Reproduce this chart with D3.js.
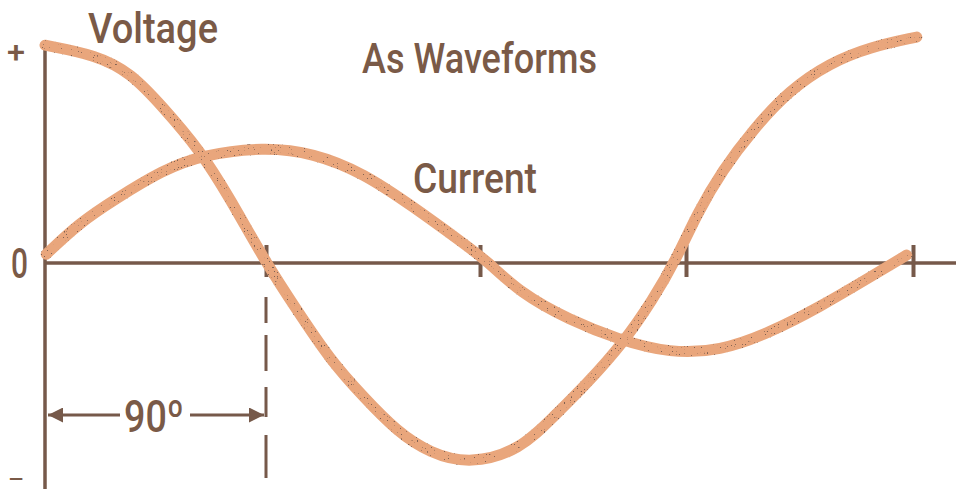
<!DOCTYPE html>
<html>
<head>
<meta charset="utf-8">
<script src="https://cdn.jsdelivr.net/npm/d3@7"></script>
<style>
  html, body { margin: 0; padding: 0; background: #fff; }
  svg { display: block; }
  .lbl { font-family: Roboto, 'Liberation Sans', sans-serif; font-weight: 500; fill: #7a5a47; }
</style>
</head>
<body>
<div id="chart"></div>
<script>
//
// DATA (phase angle in degrees, amplitude -1..1)
//

// voltage curve
const voltageDeg = [0, 21, 35, 48, 63, 75, 90, 103, 117, 131, 145, 159, 176,
                    197.5, 212, 227, 242.5, 255.5, 266, 274.5, 284.5, 296.5, 311, 327, 343, 361.5];
const voltageVal = [0.99, 0.945, 0.864, 0.709, 0.514, 0.30, 0, -0.214, -0.441, -0.609, -0.765, -0.865, -0.915,
                    -0.85, -0.70, -0.545, -0.364, -0.168, 0.023, 0.227, 0.423, 0.605, 0.786, 0.909, 0.982, 1.027];

// current curve
const currentDeg = [0.5, 14, 28, 48, 64, 89, 110, 131, 152, 173, 183,
                    197.5, 219, 241, 263, 283.5, 303, 323, 343, 357.5];
const currentVal = [0.04, 0.182, 0.286, 0.423, 0.491, 0.528, 0.50, 0.409, 0.255, 0.09, 0.01,
                    -0.136, -0.259, -0.35, -0.41, -0.40, -0.318, -0.20, -0.064, 0.036];

// axis ticks (the hand drawing spaces them a little unevenly)
const tickDeg = [90, 180, 270, 360];
const tickPx = [266, 480, 686, 913];

// texts
const title = 'As Waveforms';
const voltageLabel = 'Voltage';
const currentLabel = 'Current';
const phaseLabel = '90º';
const yLabels = ['+', '0', '–'];

//
// CHART
//

const width = 956;
const height = 492;
const ink = '#76594a';
const wave = '#e9a67c';

const svg = d3.select('#chart')
    .append('svg')
        .attr('width', width)
        .attr('height', height)
        .attr('viewBox', [0, 0, width, height]);

// speckled print texture for the waves
const f = svg.append('defs')
    .append('filter')
        .attr('id', 'speckle')
        .attr('color-interpolation-filters', 'sRGB')
        .attr('x', '-5%').attr('y', '-5%')
        .attr('width', '110%').attr('height', '110%');
f.append('feTurbulence')
    .attr('type', 'fractalNoise')
    .attr('baseFrequency', 0.7)
    .attr('numOctaves', 1)
    .attr('seed', 4)
    .attr('result', 'noise');
f.append('feColorMatrix')
    .attr('in', 'noise')
    .attr('type', 'matrix')
    .attr('values', '0 0 0 0 0.50  0 0 0 0 0.38  0 0 0 0 0.32  22 0 0 0 -15')
    .attr('result', 'dots');
f.append('feComposite')
    .attr('in', 'dots')
    .attr('in2', 'SourceGraphic')
    .attr('operator', 'in')
    .attr('result', 'clipped');
const merge = f.append('feMerge');
merge.append('feMergeNode').attr('in', 'SourceGraphic');
merge.append('feMergeNode').attr('in', 'clipped');

// scales
const x = d3.scaleLinear()
    .domain([0].concat(tickDeg))
    .range([45].concat(tickPx));
const y = d3.scaleLinear()
    .domain([-1, 1])
    .range([483, 43]);

const line = d3.line()
    .x(d => x(d[0]))
    .y(d => y(d[1]))
    .curve(d3.curveBasis);

// axes
svg.append('line')
    .attr('x1', x(0)).attr('x2', width)
    .attr('y1', y(0)).attr('y2', y(0))
    .attr('stroke', ink)
    .attr('stroke-width', 3.5);

svg.append('line')
    .attr('x1', x(0)).attr('x2', x(0))
    .attr('y1', y(1)).attr('y2', height - 3)
    .attr('stroke', ink)
    .attr('stroke-width', 3.5);

svg.append('g')
    .attr('transform', `translate(0,${y(0)})`)
    .call(d3.axisBottom(x)
        .tickValues(tickDeg)
        .tickFormat(''))
    .call(g => g.select('.domain').remove())
    .call(g => g.selectAll('.tick line')
        .attr('y1', -18)
        .attr('y2', 14)
        .attr('stroke', ink)
        .attr('stroke-width', 4));

// dashed 90 degree guide
svg.append('line')
    .attr('x1', x(90)).attr('x2', x(90))
    .attr('y1', y(0) + 14).attr('y2', 478)
    .attr('stroke', ink)
    .attr('stroke-width', 3)
    .attr('stroke-dasharray', '0 20 26 12 36 16 30 18 36');

// waves
svg.append('path')
    .datum(currentDeg.map((d, i) => [d, currentVal[i]]))
    .attr('fill', 'none')
    .attr('stroke', wave)
    .attr('stroke-width', 11)
    .attr('stroke-linecap', 'round')
    .attr('filter', 'url(#speckle)')
    .attr('d', line);

svg.append('path')
    .datum(voltageDeg.map((d, i) => [d, voltageVal[i]]))
    .attr('fill', 'none')
    .attr('stroke', wave)
    .attr('stroke-width', 11)
    .attr('stroke-linecap', 'round')
    .attr('filter', 'url(#speckle)')
    .attr('d', line);

// 90 degree dimension arrows
const arrowY = 415;
svg.append('defs')
    .append('marker')
        .attr('id', 'ah')
        .attr('viewBox', [0, 0, 10, 10])
        .attr('refX', 10).attr('refY', 5)
        .attr('markerWidth', 7).attr('markerHeight', 5)
        .attr('markerUnits', 'strokeWidth')
        .attr('orient', 'auto')
    .append('path')
        .attr('d', 'M0,0L10,5L0,10Z')
        .attr('fill', ink);

svg.append('line')
    .attr('x1', 120).attr('x2', x(0) + 3)
    .attr('y1', arrowY).attr('y2', arrowY)
    .attr('stroke', ink).attr('stroke-width', 3)
    .attr('marker-end', 'url(#ah)');
svg.append('line')
    .attr('x1', 190).attr('x2', x(90) - 2)
    .attr('y1', arrowY).attr('y2', arrowY)
    .attr('stroke', ink).attr('stroke-width', 3)
    .attr('marker-end', 'url(#ah)');

// labels
const txt = (s, px, py, size, len) => svg.append('text')
    .attr('class', 'lbl')
    .attr('x', px).attr('y', py)
    .attr('font-size', size)
    .attr('textLength', len)
    .attr('lengthAdjust', 'spacingAndGlyphs')
    .text(s);

txt(voltageLabel, 88, 43, 43, 130);
txt(title, 362, 73, 42, 235);
txt(currentLabel, 413, 193, 42, 124);
txt(phaseLabel, 124, 432, 45, 60);
txt(yLabels[0], 7, 62, 30, 18);
txt(yLabels[1], 11, 278, 42, 17);
txt(yLabels[2], 8, 487, 22, 16);
</script>
</body>
</html>
